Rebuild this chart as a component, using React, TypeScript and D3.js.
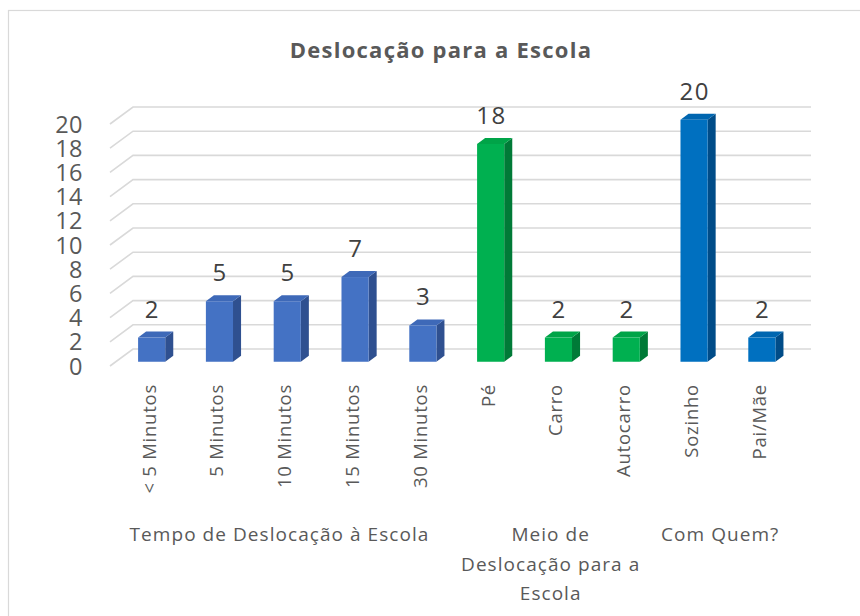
import React from "react";
import * as d3 from "d3";

const categories = ["< 5 Minutos", "5 Minutos", "10 Minutos", "15 Minutos", "30 Minutos", "Pé", "Carro", "Autocarro", "Sozinho", "Pai/Mãe"];
const values = [2, 5, 5, 7, 3, 18, 2, 2, 20, 2];
const categoryGroup = [0, 0, 0, 0, 0, 1, 1, 1, 2, 2];
const groupLabels = [["Tempo de Deslocação à Escola"], ["Meio de", "Deslocação para a", "Escola"], ["Com Quem?"]];
const yTicks = [0, 2, 4, 6, 8, 10, 12, 14, 16, 18, 20];
const title = "Deslocação para a Escola";

const groupColors = [
  { front: "#4472C4", side: "#2F5090", top: "#3E69B8" },
  { front: "#00B050", side: "#007A37", top: "#00A448" },
  { front: "#0070C0", side: "#004C88", top: "#0066B0" },
];

const W = 860;
const H = 616;
const FONT = "'Open Sans', 'DejaVu Sans', sans-serif";
const TEXT = "#595959";

export default function App() {
  const axisLeft = 110;
  const axisRight = 788;
  const depthDx = 23;
  const depthDy = -17;
  const y = d3.scaleLinear().domain([0, 20]).range([366, 124]);
  const x = d3.scaleBand<string>().domain(categories).range([axisLeft, axisRight]).paddingInner(0.6).paddingOuter(0.3);
  const xAxis = d3.scaleBand<string>().domain(categories).range([axisLeft, axisRight]).padding(0);
  const bw = x.bandwidth();
  const barShiftX = depthDx * 0.25 + 2;
  const barShiftY = depthDy * 0.25;
  const bdx = depthDx * 0.35;
  const bdy = depthDy * 0.35;

  const groupIdx = d3.range(groupLabels.length);

  return (
    <svg width={W} height={H} style={{ position: "absolute", left: 0, top: 0, background: "#fff" }} fontFamily={FONT}>
      <rect x={8.5} y={10.5} width={W + 20} height={H + 20} fill="#fff" stroke="#D9D9D9" strokeWidth={1.2} />
      <text x={441} y={58} textAnchor="middle" fontSize={22} letterSpacing={1.25} fontWeight="bold" fill={TEXT}>{title}</text>

      {yTicks.map((t) => {
        const yf = y(t);
        const path = d3.path();
        path.moveTo(axisLeft, yf);
        path.lineTo(axisLeft + depthDx, yf + depthDy);
        path.lineTo(axisRight + depthDx, yf + depthDy);
        return <path key={t} d={path.toString()} fill="none" stroke="#D9D9D9" strokeWidth={1.6} />;
      })}

      {yTicks.map((t) => (
        <text key={"l" + t} x={83} y={y(t) + 8.5} textAnchor="end" fontSize={23.5} letterSpacing={0.5} fill={TEXT}>{t}</text>
      ))}

      {categories.map((c, i) => {
        const col = groupColors[categoryGroup[i]];
        const x0 = (x(c) as number) + barShiftX;
        const x1 = x0 + bw;
        const yb = y(0) + barShiftY;
        const yt = y(values[i]) + barShiftY;
        const side = `M${x1},${yb}L${x1 + bdx},${yb + bdy}L${x1 + bdx},${yt + bdy}L${x1},${yt}Z`;
        const top = `M${x0},${yt}L${x1},${yt}L${x1 + bdx},${yt + bdy}L${x0 + bdx},${yt + bdy}Z`;
        return (
          <g key={c}>
            <path d={side} fill={col.side} />
            <path d={top} fill={col.top} />
            <rect x={x0} y={yt} width={bw} height={yb - yt} fill={col.front} />
            <text x={(x0 + x1) / 2 + 0.75} y={yt - 20} textAnchor="middle" fontSize={24} letterSpacing={1.5} fill="#404040">{values[i]}</text>
          </g>
        );
      })}

      {categories.map((c, i) => {
        const cx = (x(c) as number) + barShiftX + bw / 2 + 4;
        return (
          <text key={"c" + c} transform={`translate(${cx},384) rotate(-90)`} textAnchor="end" fontSize={18.5} letterSpacing={0.75} fill={TEXT}>{c}</text>
        );
      })}

      {groupIdx.map((g) => {
        const members = categories.filter((_, i) => categoryGroup[i] === g);
        const start = xAxis(members[0]) as number;
        const end = (xAxis(members[members.length - 1]) as number) + xAxis.bandwidth();
        const cx = (start + end) / 2;
        return (
          <text key={"g" + g} textAnchor="middle" fontSize={19} letterSpacing={1.05} fill={TEXT}>
            {groupLabels[g].map((line, li) => (
              <tspan key={li} x={cx} y={541 + li * 29.5}>{line}</tspan>
            ))}
          </text>
        );
      })}
    </svg>
  );
}
